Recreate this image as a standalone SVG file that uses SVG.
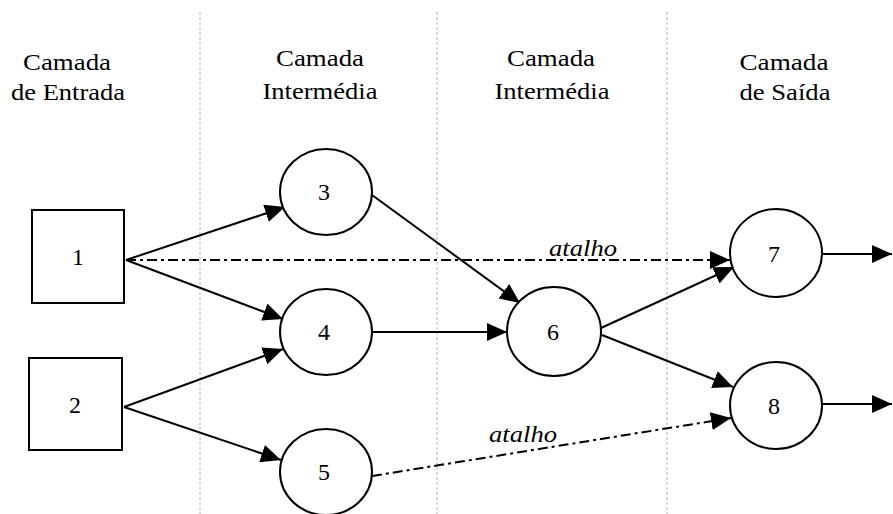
<svg xmlns="http://www.w3.org/2000/svg" width="893" height="514" viewBox="0 0 893 514">
  <style>
    .sep { stroke: #b4b4b4; stroke-width: 1; stroke-dasharray: 3 2; fill: none; }
    .node { fill: #fff; stroke: #000; stroke-width: 2; }
    .edge { stroke: #000; stroke-width: 2; fill: none; marker-end: url(#arrow); }
    .short { stroke-dasharray: 10 4 3 4; }
  </style>
  <defs>
    <marker id="arrow" markerUnits="userSpaceOnUse" markerWidth="20" markerHeight="18" refX="20" refY="9" orient="auto">
      <path d="M0,0 L20,9 L0,18 z" fill="#000"/>
    </marker>
  </defs>
  <rect width="893" height="514" fill="#fff"/>

  <!-- layer separators -->
  <g id="separators">
    <line class="sep" x1="200" y1="12" x2="200" y2="514"/>
    <line class="sep" x1="437" y1="12" x2="437" y2="514"/>
    <line class="sep" x1="667" y1="12" x2="667" y2="514"/>
  </g>

  <!-- layer titles -->
  <g id="titles">
    <text x="67" y="70" font-family="'Liberation Serif', serif" font-size="24" text-anchor="middle" textLength="88" lengthAdjust="spacingAndGlyphs">Camada</text>
    <text x="68" y="100" font-family="'Liberation Serif', serif" font-size="24" text-anchor="middle" textLength="114" lengthAdjust="spacingAndGlyphs">de Entrada</text>
    <text x="320" y="66" font-family="'Liberation Serif', serif" font-size="24" text-anchor="middle" textLength="88" lengthAdjust="spacingAndGlyphs">Camada</text>
    <text x="320" y="99" font-family="'Liberation Serif', serif" font-size="24" text-anchor="middle" textLength="115" lengthAdjust="spacingAndGlyphs">Intermédia</text>
    <text x="551" y="66" font-family="'Liberation Serif', serif" font-size="24" text-anchor="middle" textLength="88" lengthAdjust="spacingAndGlyphs">Camada</text>
    <text x="552" y="99" font-family="'Liberation Serif', serif" font-size="24" text-anchor="middle" textLength="115" lengthAdjust="spacingAndGlyphs">Intermédia</text>
    <text x="784" y="70" font-family="'Liberation Serif', serif" font-size="24" text-anchor="middle" textLength="89" lengthAdjust="spacingAndGlyphs">Camada</text>
    <text x="785" y="100" font-family="'Liberation Serif', serif" font-size="24" text-anchor="middle" textLength="91" lengthAdjust="spacingAndGlyphs">de Saída</text>
  </g>

  <!-- connectors -->
  <g id="connectors">
    <line class="edge" x1="126" y1="260" x2="285" y2="207"/>
    <line class="edge" x1="126" y1="260" x2="283" y2="319"/>
    <line class="edge" x1="124" y1="407" x2="283" y2="349"/>
    <line class="edge" x1="124" y1="407" x2="281" y2="460"/>
    <line class="edge" x1="372" y1="195" x2="520" y2="303"/>
    <line class="edge" x1="372" y1="332" x2="507" y2="332"/>
    <line class="edge" x1="601" y1="328" x2="734" y2="267"/>
    <line class="edge" x1="602" y1="335" x2="733" y2="387"/>
    <line class="edge short" x1="126" y1="260" x2="730" y2="260"/>
    <line class="edge short" x1="372" y1="476" x2="731" y2="418"/>
    <line class="edge" x1="823" y1="254" x2="892" y2="254"/>
    <line class="edge" x1="823" y1="404" x2="892" y2="404"/>
    <text x="549" y="256" font-family="'Liberation Serif', serif" font-size="24" font-style="italic" textLength="68" lengthAdjust="spacingAndGlyphs">atalho</text>
    <text x="489" y="442" font-family="'Liberation Serif', serif" font-size="24" font-style="italic" textLength="68" lengthAdjust="spacingAndGlyphs">atalho</text>
  </g>

  <!-- input nodes -->
  <g id="node1">
    <rect class="node" x="32" y="210" width="92" height="93"/>
    <text x="78" y="265" font-family="'Liberation Serif', serif" font-size="24" text-anchor="middle">1</text>
  </g>
  <g id="node2">
    <rect class="node" x="29" y="358" width="93" height="92"/>
    <text x="75" y="413" font-family="'Liberation Serif', serif" font-size="24" text-anchor="middle">2</text>
  </g>

  <!-- first hidden layer -->
  <g id="node3">
    <ellipse class="node" cx="326" cy="192" rx="46" ry="43"/>
    <text x="324" y="200" font-family="'Liberation Serif', serif" font-size="24" text-anchor="middle">3</text>
  </g>
  <g id="node4">
    <ellipse class="node" cx="326" cy="332" rx="46" ry="43"/>
    <text x="324" y="340" font-family="'Liberation Serif', serif" font-size="24" text-anchor="middle">4</text>
  </g>
  <g id="node5">
    <ellipse class="node" cx="326" cy="472" rx="46" ry="43"/>
    <text x="324" y="480" font-family="'Liberation Serif', serif" font-size="24" text-anchor="middle">5</text>
  </g>

  <!-- second hidden layer -->
  <g id="node6">
    <ellipse class="node" cx="554" cy="331.5" rx="47" ry="44.5"/>
    <text x="553" y="340" font-family="'Liberation Serif', serif" font-size="24" text-anchor="middle">6</text>
  </g>

  <!-- output layer -->
  <g id="node7">
    <ellipse class="node" cx="776" cy="253" rx="46" ry="44"/>
    <text x="774" y="262" font-family="'Liberation Serif', serif" font-size="24" text-anchor="middle">7</text>
  </g>
  <g id="node8">
    <ellipse class="node" cx="776" cy="405.5" rx="46" ry="43.5"/>
    <text x="774" y="414" font-family="'Liberation Serif', serif" font-size="24" text-anchor="middle">8</text>
  </g>
</svg>
